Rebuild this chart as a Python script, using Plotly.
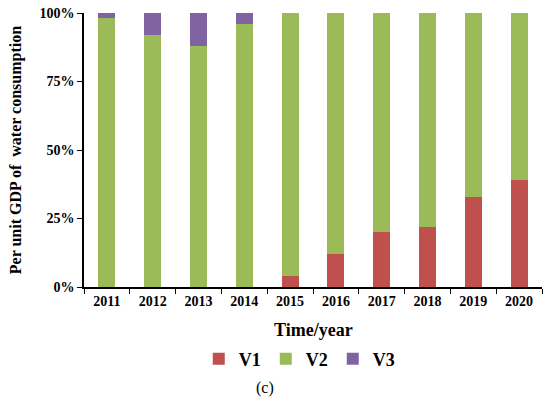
import plotly.graph_objects as go

years = ["2011", "2012", "2013", "2014", "2015", "2016", "2017", "2018", "2019", "2020"]
v1 = [0, 0, 0, 0, 4, 12, 20, 22, 33, 39]
v2 = [98, 92, 88, 96, 96, 88, 80, 78, 67, 61]
v3 = [2, 8, 12, 4, 0, 0, 0, 0, 0, 0]

font = "Liberation Serif, Times New Roman, serif"
fig = go.Figure()
fig.add_trace(go.Bar(x=years, y=v1, name="<b>V1</b>", marker=dict(color="#C0504D", line=dict(width=0))))
fig.add_trace(go.Bar(x=years, y=v2, name="<b>V2</b>", marker=dict(color="#9BBB59", line=dict(width=0))))
fig.add_trace(go.Bar(x=years, y=v3, name="<b>V3</b>", marker=dict(color="#8064A2", line=dict(width=0))))

fig.update_layout(
    barmode="stack",
    bargap=0.63,
    width=550, height=397,
    margin=dict(l=84, r=8, t=13, b=110, autoexpand=False),
    paper_bgcolor="white", plot_bgcolor="white",
    font=dict(family=font, color="black", size=14),
    legend=dict(orientation="h", x=0.47, xanchor="center", y=-0.263, yanchor="middle",
                font=dict(size=18, family=font), traceorder="normal", itemwidth=30,
                entrywidth=22, entrywidthmode="pixels", tracegroupgap=0),
    showlegend=True,
)
fig.update_xaxes(
    automargin=False,
    showline=True, linecolor="black", linewidth=1.5,
    ticks="outside", tickson="boundaries", ticklen=5, tickcolor="black",
    tickfont=dict(size=14, family=font),
    tickprefix="<b>", ticksuffix="</b>",
)
fig.update_yaxes(
    automargin=False,
    range=[0, 100], tickvals=[0, 25, 50, 75, 100],
    ticktext=["<b>0%</b>", "<b>25%</b>", "<b>50%</b>", "<b>75%</b>", "<b>100%</b>"],
    showline=True, linecolor="black", linewidth=1.5,
    ticks="outside", ticklen=5, tickcolor="black", showgrid=False, zeroline=False,
    tickfont=dict(size=14, family=font),
)
fig.add_annotation(text="<b>Time/year</b>", xref="paper", yref="paper", x=0.5, y=-0.157,
                   showarrow=False, font=dict(size=18, family=font), xanchor="center", yanchor="middle")
fig.add_annotation(text="<b>Per unit GDP of  water consumption</b>", xref="paper", yref="paper",
                   x=-0.148, y=0.5, textangle=-90,
                   showarrow=False, font=dict(size=16, family=font), xanchor="center", yanchor="middle")
fig.add_annotation(text="(c)", xref="paper", yref="paper", x=0.395, y=-0.37,
                   showarrow=False, font=dict(size=16, family=font), xanchor="center", yanchor="middle")
fig.write_html("out.html", config={"displayModeBar": False},
               post_script="document.body.style.margin='0';document.body.style.overflow='hidden';")
